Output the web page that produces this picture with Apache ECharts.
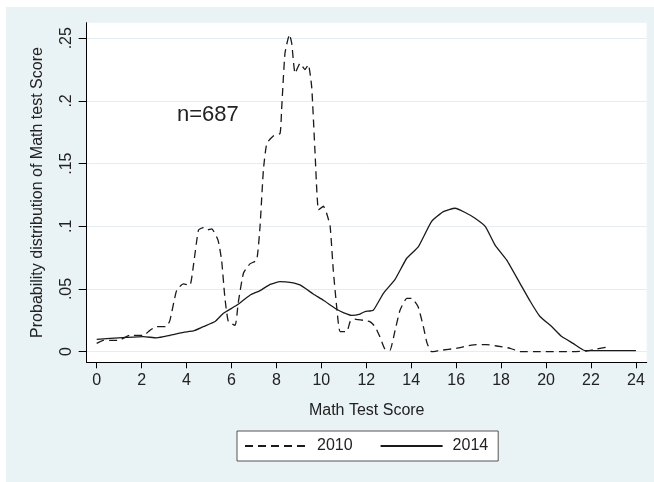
<!DOCTYPE html>
<html>
<head>
<meta charset="utf-8">
<script src="https://cdn.jsdelivr.net/npm/echarts@6/dist/echarts.min.js"></script>
<style>
  html, body { margin: 0; padding: 0; background: #fff; }
  #main { width: 654px; height: 482px; }
</style>
</head>
<body>
<div id="main"></div>
<script>
// 2010 分布 (虚线)
const x2010 = [0, 0.3, 0.6, 0.96, 1.48, 2.08, 2.37, 2.67, 3.1, 3.26, 3.56, 3.86, 4.15, 4.3, 4.53, 4.75, 4.9, 5.12, 5.4, 5.56,
  5.7, 5.86, 6.16, 6.3, 6.53, 6.82, 7.12, 7.27, 7.42, 7.57, 7.86, 8.16, 8.23, 8.38, 8.58, 8.68, 8.83, 9.05, 9.27, 9.42,
  9.57, 9.72, 9.87, 10.09, 10.24, 10.39, 10.53, 10.68, 10.83, 11.13, 11.28, 11.45, 11.87, 12.16, 12.39, 12.6, 12.83, 13.05,
  13.28, 13.5, 13.8, 14.02, 14.3, 14.54, 14.7, 14.9, 15.28, 16.02, 16.47, 16.9, 17.35, 17.8, 18.4, 18.84, 19.73, 21.2,
  21.8, 22.25, 22.8]
const y2010 = [0.0066, 0.009, 0.009, 0.009, 0.013, 0.013, 0.017, 0.02, 0.02, 0.025, 0.049, 0.054, 0.053, 0.068, 0.097, 0.099,
  0.097, 0.098, 0.089, 0.073, 0.044, 0.024, 0.021, 0.039, 0.0625, 0.07, 0.073, 0.1, 0.145, 0.166, 0.172, 0.174, 0.193,
  0.238, 0.253, 0.246, 0.222, 0.23, 0.225, 0.229, 0.211, 0.158, 0.113, 0.116, 0.11, 0.1, 0.065, 0.036, 0.016, 0.016,
  0.024, 0.026, 0.025, 0.024, 0.02, 0.012, 0.002, 0.001, 0.017, 0.033, 0.0425, 0.0425, 0.036, 0.02, 0.007, 0, 0.001,
  0.0027, 0.0045, 0.0056, 0.0056, 0.0045, 0.0027, 0, 0, 0, 0.0005, 0.002, 0.004]
// 2014 分布 (实线)
const x2014 = [0, 0.6, 1.34, 2.08, 2.67, 3.26, 3.86, 4.3, 4.75, 5.27, 5.64, 6.23, 6.82, 7.27, 7.72, 8.16, 8.6, 9.05, 9.64,
  10.09, 10.68, 11.0, 11.35, 11.72, 11.94, 12.31, 12.76, 13.28, 13.8, 14.32, 14.9, 15.43, 15.95, 16.4, 16.84, 17.3, 17.73,
  18.25, 18.84, 19.3, 19.73, 20.25, 20.7, 21.2, 21.73, 22.25, 24]
const y2014 = [0.0098, 0.0106, 0.0114, 0.012, 0.011, 0.013, 0.0154, 0.0165, 0.02, 0.024, 0.0306, 0.037, 0.045, 0.0487,
  0.0537, 0.0558, 0.0553, 0.0532, 0.046, 0.041, 0.0338, 0.031, 0.029, 0.03, 0.032, 0.033, 0.0465, 0.0577, 0.0745, 0.0838,
  0.1037, 0.1117, 0.1144, 0.111, 0.1064, 0.0997, 0.085, 0.073, 0.0545, 0.04, 0.028, 0.02, 0.012, 0.0066, 0.0008, 0.0008, 0.0008]
// 刻度
const xTicks = [0, 2, 4, 6, 8, 10, 12, 14, 16, 18, 20, 22, 24]
const yTicks = [0, 0.05, 0.1, 0.15, 0.2, 0.25]

const zip = (xs, ys) => xs.map((x, i) => [x, ys[i]])
const font = 'Liberation Sans'
const ink = '#222'

let myChart = echarts.init(document.getElementById('main'))
let options = {
  backgroundColor: '#e9f2f4',
  animation: false,
  textStyle: { fontFamily: font },
  graphic: [
    // 左上角白边
    { type: 'rect', left: 0, top: 0, shape: { width: 654, height: 7 }, style: { fill: '#fff' } },
    { type: 'rect', left: 0, top: 0, shape: { width: 6, height: 482 }, style: { fill: '#fff' } },
    {
      type: 'text',
      left: 177,
      top: 104,
      style: { text: 'n=687', font: '22px "Liberation Sans"', fill: ink },
    },
  ],
  grid: {
    left: 86.7,
    top: 22.7,
    right: 7.3,
    bottom: 119.7,
    show: true,
    backgroundColor: '#fff',
    borderWidth: 0,
  },
  legend: {
    left: 237,
    top: 431,
    orient: 'horizontal',
    padding: [7, 10, 7, 7],
    itemWidth: 62,
    itemHeight: 16,
    itemGap: 27,
    backgroundColor: '#fff',
    borderColor: '#555',
    borderWidth: 1,
    borderRadius: 0,
    itemStyle: { opacity: 0 },
    textStyle: { color: ink, fontSize: 16, fontFamily: font, padding: [0, 0, 0, 5] },
    data: ['2010', '2014'],
  },
  xAxis: {
    type: 'value',
    min: -0.445,
    max: 24.48,
    name: 'Math Test Score',
    nameLocation: 'middle',
    nameGap: 40,
    nameTextStyle: { color: ink, fontSize: 16 },
    axisLine: { onZero: false, lineStyle: { color: '#000', width: 1 } },
    axisTick: { show: true, length: 6, customValues: xTicks, lineStyle: { color: '#000' } },
    axisLabel: { color: ink, fontSize: 16, margin: 10, customValues: xTicks },
    splitLine: { show: false },
  },
  yAxis: {
    type: 'value',
    min: -0.0085,
    max: 0.2624,
    name: 'Probability distribution of Math test Score',
    nameLocation: 'middle',
    nameGap: 41,
    nameTextStyle: { color: ink, fontSize: 16 },
    axisLine: { show: true, onZero: false, lineStyle: { color: '#000', width: 1 } },
    axisTick: { show: true, length: 8, customValues: yTicks, lineStyle: { color: '#000' } },
    axisLabel: {
      color: ink,
      fontSize: 16,
      rotate: 90,
      margin: 12,
      customValues: yTicks,
      formatter: (v) => (v === 0 ? '0' : String(+v.toFixed(2)).replace(/^0\./, '.')),
    },
    splitLine: { show: true, lineStyle: { color: '#e4eef1', width: 1 } },
  },
  series: [
    {
      name: '2010',
      type: 'line',
      data: zip(x2010, y2010),
      symbol: 'none',
      smooth: 0.15,
      lineStyle: { color: '#1a1a1a', width: 1.3, type: [8, 5] },
      itemStyle: { color: '#1a1a1a' },
    },
    {
      name: '2014',
      type: 'line',
      data: zip(x2014, y2014),
      symbol: 'none',
      smooth: 0.15,
      lineStyle: { color: '#1a1a1a', width: 1.3, type: 'solid' },
      itemStyle: { color: '#1a1a1a' },
    },
  ],
}
myChart.setOption(options)
window.addEventListener('resize', () => {
  myChart.resize()
})
</script>
</body>
</html>
